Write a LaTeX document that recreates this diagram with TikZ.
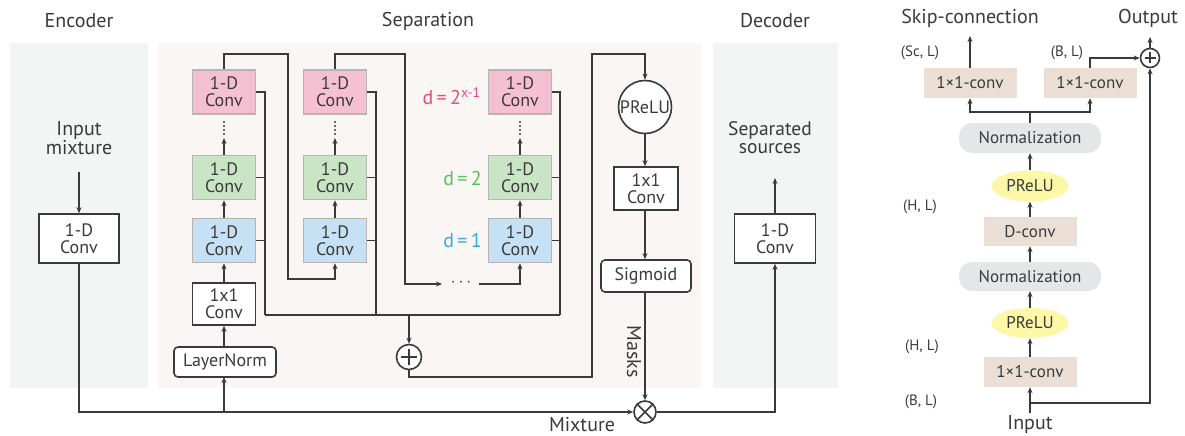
\documentclass[tikz,border=0pt]{standalone}
\usepackage{fontspec}
\setmainfont{PT Sans}
\usetikzlibrary{arrows.meta,shapes.geometric,calc}

\definecolor{ink}{HTML}{3A3A3A}
\definecolor{encbg}{HTML}{F3F5F4}
\definecolor{sepbg}{HTML}{F9F6F3}
\definecolor{pinkf}{HTML}{F5C1D2}
\definecolor{greenf}{HTML}{C9E5C6}
\definecolor{bluef}{HTML}{C6E1F4}
\definecolor{boxedge}{HTML}{B4B4B4}
\definecolor{tanf}{HTML}{EBDFD5}
\definecolor{normf}{HTML}{E4E6E7}
\definecolor{yelf}{HTML}{FCF8A8}
\definecolor{dpink}{HTML}{EC4A86}
\definecolor{dgreen}{HTML}{5CBF5E}
\definecolor{dblue}{HTML}{2FAEE6}

\begin{document}
\begin{tikzpicture}[x=1pt,y=-1pt,
  every node/.style={text=ink},
  line/.style={draw=ink, line width=1.6pt},
  arr/.style={line, -{Stealth[length=6pt,width=5pt]}},
  boxtext/.style={font=\fontsize{18}{17}\selectfont, align=center, inner sep=0pt},
  wbox/.style={boxtext, draw=ink, line width=1.6pt, fill=white},
  cbox/.style={boxtext, draw=boxedge, line width=1.5pt, minimum width=63pt, minimum height=44pt},
  pbox/.style={cbox, fill=pinkf},
  gbox/.style={cbox, fill=greenf},
  bbox/.style={cbox, fill=bluef},
  title/.style={font=\fontsize{20}{20}\selectfont, inner sep=0pt},
  rtext/.style={font=\fontsize{17}{17}\selectfont, inner sep=0pt},
  tanbox/.style={rtext, fill=tanf, minimum width=93pt, minimum height=30pt},
  normbox/.style={rtext, fill=normf, rounded corners=13pt, minimum width=142pt, minimum height=30pt},
  prelu/.style={rtext, ellipse, fill=yelf, minimum width=77pt, minimum height=31pt},
  dim/.style={font=\fontsize{15}{15}\selectfont, inner sep=0pt},
  dlab/.style={font=\fontsize{20}{20}\selectfont, anchor=east, inner sep=0pt},
  opcirc/.style={circle, draw=ink, line width=1.6pt, fill=white, inner sep=0pt},
]
\useasboundingbox (0,0) rectangle (1185,436);

% ---------- background panels ----------
\fill[encbg] (10,43) rectangle (148,388);
\fill[sepbg] (158,43) rectangle (701,388);
\fill[encbg] (713,43) rectangle (838,388);

\node[title] (tenc) at (79,21) {Encoder};
\node[title] (tsep) at (428,21) {Separation};
\node[title] (tdec) at (775,21) {Decoder};

% ---------- encoder ----------
\node[boxtext, font=\fontsize{20}{18}\selectfont] (inmix) at (79,138) {Input\\mixture};
\coordinate (inarr) at (79,172);
\node[wbox, minimum width=80pt, minimum height=49pt] (enc) at (79,238.5) {1-D\\Conv};
\draw[arr] (inarr) -- (enc.north);

% ---------- separation: bottleneck ----------
\node[wbox, rounded corners=4pt, minimum width=102pt, minimum height=30pt] (ln) at (225,362) {LayerNorm};
\node[wbox, minimum width=63pt, minimum height=42pt] (bn) at (224,304) {1x1\\Conv};

% ---------- separation: stacks of dilated blocks ----------
\foreach \c/\x in {1/224, 2/335, 3/520} {
  \node[pbox] (p\c) at (\x,92) {1-D\\Conv};
  \node[gbox] (g\c) at (\x,177.5) {1-D\\Conv};
  \node[bbox] (b\c) at (\x,240.5) {1-D\\Conv};
  \coordinate (dt\c) at (\x,138);
  \draw[arr] (b\c.north) -- (g\c.south);
  \draw[arr] (g\c.north) -- (dt\c);
  \foreach \yy in {122,126,130,134} \fill[ink] (\x,\yy) circle (1.2);
}
\draw[arr] (bn.north) -- (b1.south);
\draw[arr] (224,347) -- (bn.south);

% dilation labels
\node[dlab, text=dpink] (d3) at (481,96) {d\,=\,2\textsuperscript{x-1}};
\node[dlab, text=dgreen] (d2) at (482,178) {d\,=\,2};
\node[dlab, text=dblue] (d1) at (482,240) {d\,=\,1};

% skip outputs of every block, collected on a common bus
\coordinate (s1) at (265,315);
\coordinate (s2) at (376,315);
\coordinate (s3) at (560,315);
\foreach \c in {1,2,3} {
  \draw[line] (p\c.east) -| (s\c);
  \draw[line] (g\c.east) -- (g\c.east -| s\c);
  \draw[line] (b\c.east) -- (b\c.east -| s\c);
}
\draw[line] (s1) -- (s3);

% residual paths between stacks
\coordinate (r1a) at (224,54);
\coordinate (r1b) at (288,54);
\coordinate (r1c) at (288,279);
\draw[arr] (p1.north) -- (r1a) -- (r1b) -- (r1c) -| (b2.south);

\coordinate (r2a) at (335,54);
\coordinate (r2b) at (405,54);
\coordinate (r2c) at (405,284);
\node[inner sep=0pt, font=\fontsize{16}{16}\selectfont] (more) at (461,283) {$\cdots$};
\draw[arr] (p2.north) -- (r2a) -- (r2b) -- (r2c) -- (442,284);
\draw[arr] (479,284) -| (b3.south);

% sum of skip outputs
\node[opcirc, minimum size=25pt] (sumA) at (409,357) {};
\draw[line] ($(sumA.center)+(-8,0)$) -- ($(sumA.center)+(8,0)$);
\draw[line] ($(sumA.center)+(0,-8)$) -- ($(sumA.center)+(0,8)$);
\coordinate (sj) at (409,315);
\draw[arr] (sj) -- (sumA.north);

% mask estimation
\node[opcirc, minimum size=53pt, font=\fontsize{18}{18}\selectfont] (pr) at (645,107) {PReLU};
\node[wbox, minimum width=64pt, minimum height=43pt] (mc) at (646,188.5) {1x1\\Conv};
\node[wbox, rounded corners=4pt, minimum width=90pt, minimum height=32pt] (sig) at (646,276) {Sigmoid};
\coordinate (m1) at (409,377);
\coordinate (m2) at (592,377);
\coordinate (m3) at (592,54);
\coordinate (m4) at (645,54);
\draw[arr] (sumA.south) -- (m1) -- (m2) -- (m3) -- (m4) -- (pr.north);
\draw[arr] (pr.south) -- (pr.south |- mc.north);
\draw[arr] (pr.south |- mc.south) -- (pr.south |- sig.north);

% masking of the mixture
\node[opcirc, minimum size=22pt] (mul) at (645,412) {};
\draw[line] (mul.north west) -- (mul.south east);
\draw[line] (mul.north east) -- (mul.south west);
\draw[arr] (pr.south |- sig.south) -- node[pos=0.55, rotate=-90, below=3pt, font=\fontsize{20}{20}\selectfont, inner sep=0pt] (masks) {Masks} (mul.north);

\coordinate (mx1) at (79,412);
\coordinate (mx2) at (224,412);
\draw[arr] (enc.south) -- (mx1) -- (mul.west);
\draw[arr] (mx2) -- (224,377);
\node[font=\fontsize{20}{20}\selectfont, inner sep=0pt, anchor=base] (mixlab) at (582,431) {Mixture};

% ---------- decoder ----------
\node[wbox, minimum width=81pt, minimum height=49pt] (dec) at (775,238.5) {1-D\\Conv};
\coordinate (dj) at (775,412);
\draw[arr] (mul.east) -- (dj) -- (dec.south);
\coordinate (outarr) at (775,178);
\draw[arr] (dec.north) -- (outarr);
\node[boxtext, font=\fontsize{19.5}{18}\selectfont] (sepsrc) at (770,138) {Separated\\sources};

% ---------- 1-D conv block detail ----------
\node[title] (tskip) at (970,18) {Skip-connection};
\node[title] (tout) at (1148,18) {Output};

\node[tanbox] (lc) at (970,83) {1×1-conv};
\node[tanbox] (rc) at (1090,83) {1×1-conv};
\node[normbox] (nu) at (1030,138) {Normalization};
\node[prelu] (pu) at (1030,186) {PReLU};
\node[tanbox, minimum height=29pt] (dc) at (1030,231.5) {D-conv};
\node[normbox, minimum height=29pt] (nl) at (1030,276.5) {Normalization};
\node[prelu, minimum height=30pt] (pl) at (1030,323) {PReLU};
\node[tanbox] (bc) at (1030,372) {1×1-conv};
\node[rtext, font=\fontsize{20}{20}\selectfont, anchor=base] (inp) at (1030,429) {Input};

\node[opcirc, minimum size=19pt] (sumB) at (1150,58) {};
\draw[line, line width=1.3pt] ($(sumB.center)+(-5.5,0)$) -- ($(sumB.center)+(5.5,0)$);
\draw[line, line width=1.3pt] ($(sumB.center)+(0,-5.5)$) -- ($(sumB.center)+(0,5.5)$);

\node[dim] (dsc) at (920,53) {(Sc, L)};
\node[dim] (dbl1) at (1067,53) {(B, L)};
\node[dim] (dhl1) at (920,207) {(H, L)};
\node[dim] (dhl2) at (922,347) {(H, L)};
\node[dim] (dbl2) at (921,402) {(B, L)};

\coordinate (inbot) at (1030,413);
\coordinate (inj) at (1030,403);
\coordinate (resR) at (1150,403);
\draw[arr] (inbot) -- (bc.south);
\draw[arr] (inj) -- (resR) -- (sumB.south);
\draw[arr] (bc.north) -- (pl.south);
\draw[arr] (pl.north) -- (nl.south);
\draw[arr] (nl.north) -- (dc.south);
\draw[arr] (dc.north) -- (pu.south);
\draw[arr] (pu.north) -- (nu.south);

\coordinate (split) at (1030,112);
\draw[line] (nu.north) -- (split);
\draw[arr] (split) -| (lc.south);
\draw[arr] (split) -| (rc.south);

\coordinate (skipout) at (970,36);
\draw[arr] (lc.north) -- (skipout);
\coordinate (rtop) at (1090,58);
\draw[arr] (rc.north) -- (rtop) -- (sumB.west);
\coordinate (outtop) at (1150,37);
\draw[arr] (sumB.north) -- (outtop);
\end{tikzpicture}
\end{document}
